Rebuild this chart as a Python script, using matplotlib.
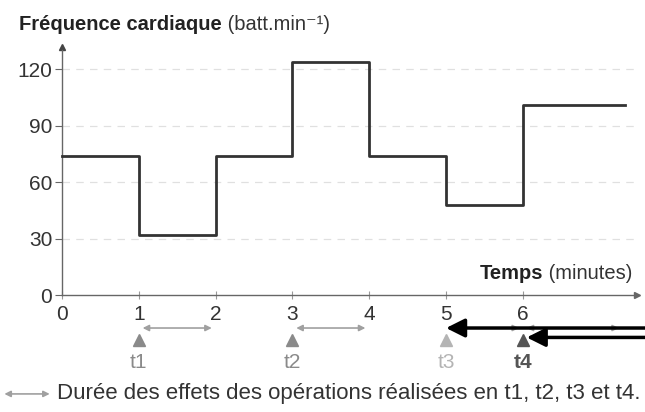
import matplotlib.pyplot as plt

plt.rcParams['font.family'] = ['Liberation Sans', 'DejaVu Sans']

# Step data: heart rate per minute interval
t_start = [0, 1, 2, 3, 4, 5, 6]
heart_rate = [74, 32, 74, 124, 74, 48, 101]
t_end = 7.33

y_ticks = [0, 30, 60, 90, 120]
x_ticks = [0, 1, 2, 3, 4, 5, 6]

# operations: time, label, colour, bold
op_times = [1, 3, 5, 6]
op_labels = ["t1", "t2", "t3", "t4"]
op_colors = ["#8a8a8a", "#8a8a8a", "#b4b4b4", "#555555"]
op_bold = [False, False, False, True]

# effect durations (start, end)
effects = [(1, 2), (3, 4), (5, 6), (6, 7.3)]

fig = plt.figure(figsize=(6.45, 4.12), dpi=100)
ax = fig.add_axes([0, 0, 1, 1])
ax.set_xlim(-0.807, 7.59)
ax.set_ylim(-62.1, 156.7)

for s in ["top", "right"]:
    ax.spines[s].set_visible(False)
ax.spines["left"].set_position(("data", 0))
ax.spines["bottom"].set_position(("data", 0))
ax.spines["left"].set_bounds(0, 130)
ax.spines["bottom"].set_bounds(0, 7.45)
for s in ["left", "bottom"]:
    ax.spines[s].set_color("#666666")
    ax.spines[s].set_linewidth(1.0)
ax.plot(0, 132, marker="^", color="#444444", markersize=5, clip_on=False)
ax.plot(7.48, 0, marker=">", color="#666666", markersize=5, clip_on=False)

ax.set_yticks(y_ticks)
ax.set_yticklabels([str(v) for v in y_ticks], fontsize=15, color="#333333")
ax.set_xticks(x_ticks)
ax.set_xticklabels([str(v) for v in x_ticks], fontsize=15, color="#333333")
ax.tick_params(axis="y", direction="out", length=5, color="#666666", pad=2)
ax.tick_params(axis="x", direction="inout", length=6, color="#999999", pad=4)

# grid
for v in y_ticks[1:]:
    ax.plot([0, 7.5], [v, v], ls=(0, (6, 5)), color="#e0e0e0", lw=0.9, zorder=1)

# step curve
xs = t_start + [t_end]
ys = heart_rate + [heart_rate[-1]]
ax.step(xs, ys, where="post", color="#333333", lw=2, zorder=3)

# titles
t1 = ax.text(0.03, 0.927, "Fréquence cardiaque", transform=fig.transFigure,
             fontsize=14.5, fontweight="bold", color="#222222", va="baseline")
ax.annotate(" (batt.min⁻¹)", xy=(1, 0), xycoords=t1, fontsize=14.5,
            color="#333333", va="bottom")
t2 = ax.text(7.43, 8.5, " (minutes)", fontsize=14.5, color="#333333",
             ha="right", va="baseline")
ax.annotate("Temps", xy=(0, 0), xycoords=t2, fontsize=14.5, fontweight="bold",
            color="#222222", ha="right", va="bottom")

# effect duration arrows
for (a, b) in effects:
    ax.annotate("", xy=(b - 0.05, -17.5), xytext=(a + 0.05, -17.5),
                arrowprops=dict(arrowstyle="<|-|>", color="#a0a0a0", lw=1.2,
                                mutation_scale=9, shrinkA=0, shrinkB=0))

# thick black arrows at t3 and t4
ax.annotate("", xy=(5.0, -17.5), xytext=(7.6, -17.5),
            arrowprops=dict(arrowstyle="-|>", color="black", lw=2.5,
                            mutation_scale=28, shrinkA=0, shrinkB=0))
ax.annotate("", xy=(6.05, -22.5), xytext=(7.6, -22.5),
            arrowprops=dict(arrowstyle="-|>", color="black", lw=2.5,
                            mutation_scale=28, shrinkA=0, shrinkB=0))

# operation markers
for x, lab, c, b in zip(op_times, op_labels, op_colors, op_bold):
    ax.plot(x, -24, marker="^", color=c, markersize=9, zorder=2)
    ax.text(x, -36, lab, ha="center", va="center", fontsize=15, color=c,
            fontweight="bold" if b else "normal")

# caption
ax.annotate("", xy=(-0.16, -52.5), xytext=(-0.75, -52.5),
            arrowprops=dict(arrowstyle="<|-|>", color="#a0a0a0", lw=1.2,
                            mutation_scale=9, shrinkA=0, shrinkB=0))
ax.text(-0.07, -52.5, "Durée des effets des opérations réalisées en t1, t2, t3 et t4.",
        fontsize=16, color="#333333", va="center")

fig.savefig("out.png", dpi=100)
